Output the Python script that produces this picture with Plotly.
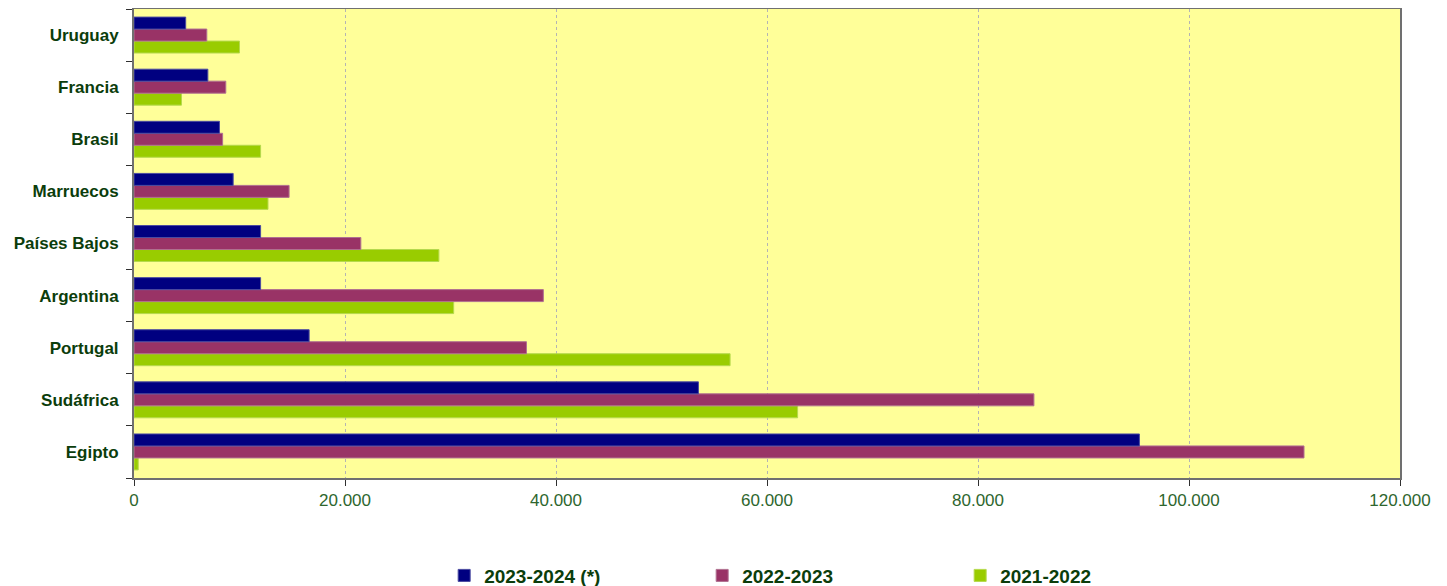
import plotly.graph_objects as go

# --- data ---
paises = ["Egipto", "Sudáfrica", "Portugal", "Argentina", "Países Bajos",
          "Marruecos", "Brasil", "Francia", "Uruguay"]

t2023_24 = [95300, 53500, 16600, 12000, 12000, 9400, 8100, 7000, 4900]
t2022_23 = [110900, 85300, 37200, 38800, 21500, 14700, 8400, 8700, 6900]
t2021_22 = [400, 62900, 56500, 30300, 28900, 12700, 12000, 4500, 10000]

verde_txt = "#0b3d0b"
font_fam = "Liberation Sans, Arial, sans-serif"

fig = go.Figure()
# added bottom-up so the navy bar sits on top of each group
fig.add_trace(go.Bar(y=paises, x=t2021_22, name="2021-2022", orientation="h",
                     marker=dict(color="#99cc00", line=dict(color="#b5d94d", width=1))))
fig.add_trace(go.Bar(y=paises, x=t2022_23, name="2022-2023", orientation="h",
                     marker=dict(color="#993366", line=dict(color="#b07090", width=1))))
fig.add_trace(go.Bar(y=paises, x=t2023_24, name="2023-2024 (*)", orientation="h",
                     marker=dict(color="#000080", line=dict(color="#4a4aa0", width=1))))

# page body has an 8px margin, so the figure is sized 8px smaller
fig.update_layout(
    width=1439, height=578,
    margin=dict(l=126, r=47, t=1, b=108, autoexpand=False),
    paper_bgcolor="white",
    plot_bgcolor="#ffff99",
    barmode="group",
    bargap=0.31,
    bargroupgap=0,
    separators=",.",
    font=dict(family=font_fam, color=verde_txt),
    showlegend=True,
    legend=dict(orientation="h", traceorder="reversed",
                x=0.245, xanchor="left", y=-0.208, yanchor="middle",
                font=dict(size=19, color=verde_txt, family=font_fam, weight="bold"),
                entrywidth=213, itemwidth=30),
)

fig.update_xaxes(
    range=[0, 120000], dtick=20000, tickformat=",d",
    showgrid=True, gridcolor="#b4b4b4", griddash="3px,3px", gridwidth=1,
    zeroline=False,
    showline=True, linecolor="#707070", linewidth=2, mirror=True,
    ticks="outside", ticklen=6, tickcolor="#303030",
    ticklabelstandoff=0,
    tickfont=dict(size=17, color="#2e662e"),
)
fig.update_yaxes(
    categoryorder="array", categoryarray=paises,
    tickson="boundaries", ticks="outside", ticklen=6, tickcolor="#303030",
    showline=True, linecolor="#707070", linewidth=2, mirror=True,
    showgrid=False,
    ticklabelstandoff=10,
    tickfont=dict(size=17, color=verde_txt, weight="bold"),
)

fig.write_html("out.html")
